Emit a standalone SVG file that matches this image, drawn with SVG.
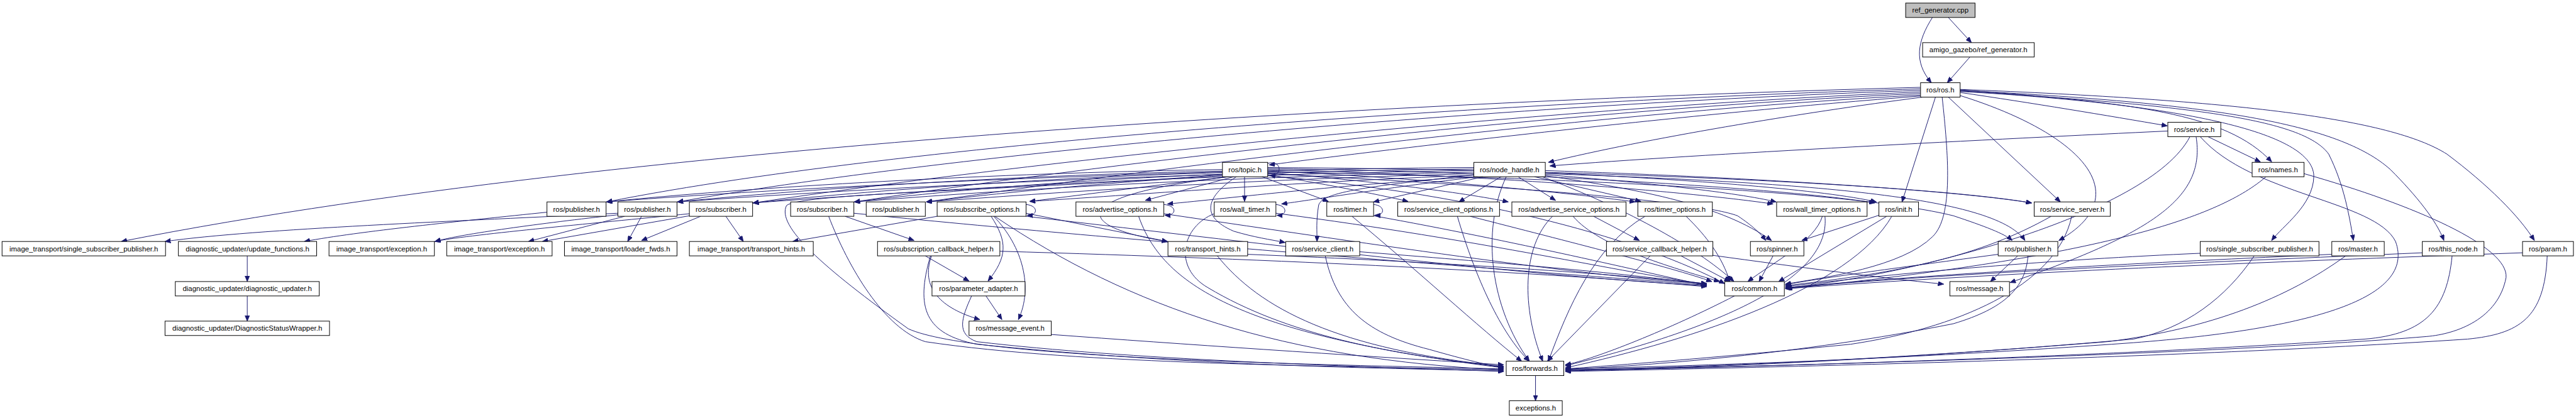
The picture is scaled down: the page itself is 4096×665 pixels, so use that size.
<svg xmlns="http://www.w3.org/2000/svg" width="4096" height="665" viewBox="0 0 4096 665">
<style>
.n rect{fill:#fff;stroke:#000;stroke-width:1.2}
.n text{font-family:"Liberation Sans",Arial,sans-serif;font-size:14px;text-anchor:middle;fill:#000}
#edges path{fill:none;stroke:#191970;stroke-width:1.2;marker-end:url(#ah)}
</style>
<defs>
<marker id="ah" markerUnits="userSpaceOnUse" markerWidth="12" markerHeight="9" refX="11" refY="4.5" orient="auto"><path d="M0,0 L11,4.5 L0,9 z" fill="#191970" stroke="#191970" stroke-width="1"/></marker>
</defs>
<rect width="4096" height="665" fill="#fff"/>
<g transform="scale(0.8174)">
<g id="edges">
<path d="M3759,34 C3730,80 3722,120 3757,161"/>
<path d="M3790,34 L3835,83"/>
<path d="M3832,111 L3788,161"/>
<path d="M3736,170 C3000,190 1300,260 236,470"/>
<path d="M3736,173 C3000,195 1800,270 1180,393"/>
<path d="M3736,176 C3000,200 1900,290 1318,393"/>
<path d="M3736,179 C3100,205 2100,300 1465,395"/>
<path d="M3736,182 C3100,210 2200,310 1662,393"/>
<path d="M3736,185 C3150,215 2300,320 1802,393"/>
<path d="M3736,187 C3300,220 2700,290 2469,321"/>
<path d="M3740,189 C3500,220 3200,270 3012,316"/>
<path d="M3813,180 C3950,200 4100,225 4216,245"/>
<path d="M3813,175 C4150,200 4330,220 4419,315"/>
<path d="M3765,189 L3700,393"/>
<path d="M3790,189 L4008,393"/>
<path d="M3813,178 C4200,200 4500,250 4501,343 C4500,400 4440,440 4419,468"/>
<path d="M3813,177 C4250,205 4480,230 4530,300 C4560,360 4570,420 4578,468"/>
<path d="M3813,176 C4300,200 4550,240 4650,330 C4700,380 4740,430 4754,468"/>
<path d="M3813,174 C4350,195 4650,230 4760,300 C4840,360 4900,420 4930,468"/>
<path d="M3813,186 C4050,260 4160,380 4005,468"/>
<path d="M3778,189 C3790,300 3800,420 3760,460 C3700,520 3550,540 3473,553"/>
<path d="M4217,255 C3900,270 3300,300 3015,323"/>
<path d="M4295,266 L4397,315"/>
<path d="M4260,266 C4180,420 3700,540 3475,560"/>
<path d="M4272,266 C4290,380 4200,450 3910,550"/>
<path d="M4280,266 C4380,380 4620,390 4660,470 C4700,580 4500,640 4150,667 C3700,700 3300,712 3045,718"/>
<path d="M4408,344 C4320,420 4100,500 3475,562"/>
<path d="M4482,338 C4700,400 4880,480 4875,540 C4860,620 4780,650 4720,655 C4300,690 3400,715 3045,720"/>
<path d="M2466,318 C2495,310 2495,345 2470,341"/>
<path d="M2378,330 C2000,335 1500,360 1180,393"/>
<path d="M2378,333 C2000,340 1600,365 1318,393"/>
<path d="M2378,336 C2050,345 1700,370 1465,395"/>
<path d="M2378,339 C2100,350 1850,370 1662,393"/>
<path d="M2378,342 C2150,355 1950,375 1802,393"/>
<path d="M2390,344 C2250,360 2100,380 2003,392"/>
<path d="M2400,344 L2228,390"/>
<path d="M2421,344 L2421,392"/>
<path d="M2455,344 L2584,392"/>
<path d="M2466,340 C2560,355 2680,378 2739,392"/>
<path d="M2466,336 C2650,350 2850,375 2934,393"/>
<path d="M2466,333 C2750,345 3050,375 3181,393"/>
<path d="M2466,330 C2900,340 3300,375 3449,397"/>
<path d="M2466,328 C3000,335 3500,370 3647,395"/>
<path d="M2466,326 C3100,330 3750,360 3952,395"/>
<path d="M2466,334 C3000,345 3600,370 3800,420 C3860,440 3900,455 3914,468"/>
<path d="M2390,344 C2080,380 2080,440 2271,470"/>
<path d="M2378,340 C2000,370 1560,375 1530,400 C1510,440 1600,520 1767,640 C1900,700 2600,710 2925,718"/>
<path d="M2466,338 C2900,360 3300,390 3380,420 C3410,440 3425,455 3435,468"/>
<path d="M2466,342 C2900,380 3200,470 3355,552"/>
<path d="M2405,344 C2350,380 2330,420 2400,450 C2440,462 2470,466 2500,472"/>
<path d="M2867,326 C2300,330 1600,360 1180,393"/>
<path d="M2867,329 C2300,335 1700,365 1318,393"/>
<path d="M2867,332 C2300,340 1800,370 1465,395"/>
<path d="M2867,335 C2350,345 1950,370 1662,393"/>
<path d="M2867,338 C2400,350 2050,375 1802,393"/>
<path d="M2867,341 C2500,355 2200,380 2003,392"/>
<path d="M2870,344 C2600,360 2400,385 2271,397"/>
<path d="M2875,344 C2700,365 2580,385 2493,397"/>
<path d="M2885,344 L2672,393"/>
<path d="M2920,344 L2838,393"/>
<path d="M2953,344 L3026,390"/>
<path d="M2985,344 L3192,392"/>
<path d="M3006,340 C3200,355 3380,375 3455,393"/>
<path d="M3006,336 C3300,350 3550,370 3650,393"/>
<path d="M3006,332 C3400,345 3800,370 3952,395"/>
<path d="M2867,340 C2700,360 2570,370 2565,400 C2560,430 2562,450 2562,470"/>
<path d="M3006,342 C3200,370 3350,400 3446,468"/>
<path d="M3006,338 C3500,355 3880,380 3939,468"/>
<path d="M3000,344 C3150,400 3300,480 3373,548"/>
<path d="M2930,344 C2880,450 2900,600 2975,703"/>
<path d="M1064,413 C900,430 700,450 592,470"/>
<path d="M1202,415 C900,430 500,445 321,470"/>
<path d="M1202,418 C1050,435 900,455 846,470"/>
<path d="M1215,421 L1028,470"/>
<path d="M1248,421 L1221,470"/>
<path d="M1341,416 C1150,435 900,458 846,470"/>
<path d="M1341,420 L1055,470"/>
<path d="M1363,421 L1248,468"/>
<path d="M1412,421 L1446,470"/>
<path d="M1644,421 L1778,468"/>
<path d="M1661,415 C2200,470 3000,530 3320,555"/>
<path d="M1612,421 C1650,520 1720,640 1800,665 C2100,710 2600,712 2925,720"/>
<path d="M1823,421 L1542,470"/>
<path d="M1996,398 C2020,400 2020,420 1998,419"/>
<path d="M1928,421 C1960,470 1960,500 1922,547"/>
<path d="M1933,421 C1990,480 2010,560 1981,622"/>
<path d="M1996,415 L2271,470"/>
<path d="M1935,421 C2200,600 2500,700 2925,720"/>
<path d="M1996,421 C2500,480 3000,540 3320,556"/>
<path d="M2264,398 C2290,400 2290,420 2266,419"/>
<path d="M2215,421 C2260,550 2400,650 2925,716"/>
<path d="M2264,416 C2700,480 3100,540 3320,552"/>
<path d="M2482,398 C2505,400 2505,420 2484,419"/>
<path d="M2362,416 C2300,440 2280,520 2350,560 C2500,650 2700,690 2925,714"/>
<path d="M2482,415 C2900,470 3150,530 3320,553"/>
<path d="M2672,398 C2695,400 2695,420 2674,419"/>
<path d="M2630,421 C2750,520 2880,640 2960,703"/>
<path d="M2672,420 C2950,470 3200,530 3320,556"/>
<path d="M2835,421 C2870,540 2920,650 2975,703"/>
<path d="M2860,421 C3050,470 3250,520 3330,548"/>
<path d="M3020,421 C2960,480 2960,600 3001,703"/>
<path d="M3100,421 L3189,468"/>
<path d="M3060,421 C3110,480 3250,520 3345,548"/>
<path d="M3200,421 C3100,480 3050,600 3012,703"/>
<path d="M3280,421 C3320,460 3350,500 3365,548"/>
<path d="M3545,421 C3530,470 3450,510 3400,548"/>
<path d="M3550,421 C3560,520 3420,620 3045,712"/>
<path d="M3655,419 L3505,468"/>
<path d="M3670,421 L3460,548"/>
<path d="M3680,421 C3600,560 3300,660 3045,716"/>
<path d="M3990,421 C3850,500 3700,530 3473,556"/>
<path d="M4030,421 C4000,560 3800,640 3600,670 C3300,700 3100,714 3045,718"/>
<path d="M1800,498 L1885,547"/>
<path d="M1812,498 C1790,560 1830,600 1906,622"/>
<path d="M1945,489 C2500,505 3000,530 3320,558"/>
<path d="M1810,498 C1780,600 1800,650 1900,670 C2300,710 2600,715 2925,722"/>
<path d="M1918,576 L1949,622"/>
<path d="M1890,576 C1870,620 1860,650 1900,665 C2200,700 2600,712 2925,723"/>
<path d="M2045,651 C2300,670 2600,690 2925,710"/>
<path d="M2427,495 C2800,510 3100,530 3320,552"/>
<path d="M2368,498 C2450,600 2600,680 2925,713"/>
<path d="M2578,498 C2600,600 2660,650 2780,680 C2850,700 2900,712 2925,716"/>
<path d="M2645,490 C2900,510 3150,530 3320,554"/>
<path d="M3210,498 L3010,703"/>
<path d="M3270,498 L3365,548"/>
<path d="M3332,497 C3500,520 3650,540 3781,553"/>
<path d="M3449,498 L3422,548"/>
<path d="M3925,498 L3872,548"/>
<path d="M3887,495 C3700,520 3550,540 3473,554"/>
<path d="M3945,498 C3940,560 3900,600 3800,630 C3500,690 3200,712 3045,719"/>
<path d="M4280,493 C4000,505 3700,530 3473,558"/>
<path d="M4385,498 C4330,580 4250,640 4150,660 C3700,700 3300,715 3045,720"/>
<path d="M4536,495 C4200,510 3800,530 3473,560"/>
<path d="M4563,498 C4450,580 4300,640 4100,665 C3600,705 3300,716 3045,721"/>
<path d="M4712,492 C4300,510 3800,530 3473,561"/>
<path d="M4770,498 C4760,600 4720,650 4600,660 C4000,700 3300,716 3045,722"/>
<path d="M4907,492 C4400,510 3900,530 3473,562"/>
<path d="M4955,498 C4950,620 4900,650 4800,660 C4200,700 3300,718 3045,723"/>
<path d="M3374,576 C3250,640 3100,700 3045,710"/>
<path d="M2987,731 L2987,780"/>
<path d="M481,498 L481,548"/>
<path d="M481,576 L481,625"/>
</g>
<g id="n0" class="n"><rect x="3707" y="6" width="135" height="28" style="fill:#bfbfbf"/><text x="3774.5" y="25">ref_generator.cpp</text></g>
<g id="n1" class="n"><rect x="3740" y="83" width="217" height="28"/><text x="3848.5" y="102">amigo_gazebo/ref_generator.h</text></g>
<g id="n2" class="n"><rect x="3736" y="161" width="77" height="28"/><text x="3774.5" y="180">ros/ros.h</text></g>
<g id="n3" class="n"><rect x="4217" y="238" width="103" height="28"/><text x="4268.5" y="257">ros/service.h</text></g>
<g id="n4" class="n"><rect x="2378" y="316" width="88" height="28"/><text x="2422" y="335">ros/topic.h</text></g>
<g id="n5" class="n"><rect x="2867" y="316" width="139" height="28"/><text x="2936.5" y="335">ros/node_handle.h</text></g>
<g id="n6" class="n"><rect x="4381" y="316" width="101" height="28"/><text x="4431.5" y="335">ros/names.h</text></g>
<g id="n7" class="n"><rect x="1064" y="393" width="115" height="28"/><text x="1121.5" y="412">ros/publisher.h</text></g>
<g id="n8" class="n"><rect x="1202" y="393" width="115" height="28"/><text x="1259.5" y="412">ros/publisher.h</text></g>
<g id="n9" class="n"><rect x="1341" y="393" width="123" height="28"/><text x="1402.5" y="412">ros/subscriber.h</text></g>
<g id="n10" class="n"><rect x="1538" y="393" width="123" height="28"/><text x="1599.5" y="412">ros/subscriber.h</text></g>
<g id="n11" class="n"><rect x="1685" y="393" width="115" height="28"/><text x="1742.5" y="412">ros/publisher.h</text></g>
<g id="n12" class="n"><rect x="1823" y="393" width="173" height="28"/><text x="1909.5" y="412">ros/subscribe_options.h</text></g>
<g id="n13" class="n"><rect x="2093" y="393" width="171" height="28"/><text x="2178.5" y="412">ros/advertise_options.h</text></g>
<g id="n14" class="n"><rect x="2362" y="393" width="120" height="28"/><text x="2422" y="412">ros/wall_timer.h</text></g>
<g id="n15" class="n"><rect x="2581" y="393" width="91" height="28"/><text x="2626.5" y="412">ros/timer.h</text></g>
<g id="n16" class="n"><rect x="2719" y="393" width="198" height="28"/><text x="2818" y="412">ros/service_client_options.h</text></g>
<g id="n17" class="n"><rect x="2941" y="393" width="222" height="28"/><text x="3052" y="412">ros/advertise_service_options.h</text></g>
<g id="n18" class="n"><rect x="3186" y="393" width="145" height="28"/><text x="3258.5" y="412">ros/timer_options.h</text></g>
<g id="n19" class="n"><rect x="3456" y="393" width="176" height="28"/><text x="3544" y="412">ros/wall_timer_options.h</text></g>
<g id="n20" class="n"><rect x="3655" y="393" width="77" height="28"/><text x="3693.5" y="412">ros/init.h</text></g>
<g id="n21" class="n"><rect x="3957" y="393" width="148" height="28"/><text x="4031" y="412">ros/service_server.h</text></g>
<g id="n22" class="n"><rect x="4" y="470" width="318" height="28"/><text x="163" y="489">image_transport/single_subscriber_publisher.h</text></g>
<g id="n23" class="n"><rect x="347" y="470" width="269" height="28"/><text x="481.5" y="489">diagnostic_updater/update_functions.h</text></g>
<g id="n24" class="n"><rect x="640" y="470" width="205" height="28"/><text x="742.5" y="489">image_transport/exception.h</text></g>
<g id="n25" class="n"><rect x="869" y="470" width="205" height="28"/><text x="971.5" y="489">image_transport/exception.h</text></g>
<g id="n26" class="n"><rect x="1098" y="470" width="219" height="28"/><text x="1207.5" y="489">image_transport/loader_fwds.h</text></g>
<g id="n27" class="n"><rect x="1341" y="470" width="241" height="28"/><text x="1461.5" y="489">image_transport/transport_hints.h</text></g>
<g id="n28" class="n"><rect x="1707" y="470" width="238" height="28"/><text x="1826" y="489">ros/subscription_callback_helper.h</text></g>
<g id="n29" class="n"><rect x="2272" y="470" width="155" height="28"/><text x="2349.5" y="489">ros/transport_hints.h</text></g>
<g id="n30" class="n"><rect x="2501" y="470" width="144" height="28"/><text x="2573" y="489">ros/service_client.h</text></g>
<g id="n31" class="n"><rect x="3125" y="470" width="207" height="28"/><text x="3228.5" y="489">ros/service_callback_helper.h</text></g>
<g id="n32" class="n"><rect x="3405" y="470" width="104" height="28"/><text x="3457" y="489">ros/spinner.h</text></g>
<g id="n33" class="n"><rect x="3887" y="470" width="116" height="28"/><text x="3945" y="489">ros/publisher.h</text></g>
<g id="n34" class="n"><rect x="4280" y="470" width="231" height="28"/><text x="4395.5" y="489">ros/single_subscriber_publisher.h</text></g>
<g id="n35" class="n"><rect x="4536" y="470" width="102" height="28"/><text x="4587" y="489">ros/master.h</text></g>
<g id="n36" class="n"><rect x="4712" y="470" width="120" height="28"/><text x="4772" y="489">ros/this_node.h</text></g>
<g id="n37" class="n"><rect x="4907" y="470" width="99" height="28"/><text x="4956.5" y="489">ros/param.h</text></g>
<g id="n38" class="n"><rect x="341" y="548" width="280" height="28"/><text x="481" y="567">diagnostic_updater/diagnostic_updater.h</text></g>
<g id="n39" class="n"><rect x="1813" y="548" width="181" height="28"/><text x="1903.5" y="567">ros/parameter_adapter.h</text></g>
<g id="n40" class="n"><rect x="3355" y="548" width="116" height="28"/><text x="3413" y="567">ros/common.h</text></g>
<g id="n41" class="n"><rect x="3793" y="548" width="116" height="28"/><text x="3851" y="567">ros/message.h</text></g>
<g id="n42" class="n"><rect x="321" y="625" width="320" height="28"/><text x="481" y="644">diagnostic_updater/DiagnosticStatusWrapper.h</text></g>
<g id="n43" class="n"><rect x="1885" y="625" width="160" height="28"/><text x="1965" y="644">ros/message_event.h</text></g>
<g id="n44" class="n"><rect x="2930" y="703" width="112" height="28"/><text x="2986" y="722">ros/forwards.h</text></g>
<g id="n45" class="n"><rect x="2936" y="780" width="103" height="28"/><text x="2987.5" y="799">exceptions.h</text></g>
</g>
</svg>
